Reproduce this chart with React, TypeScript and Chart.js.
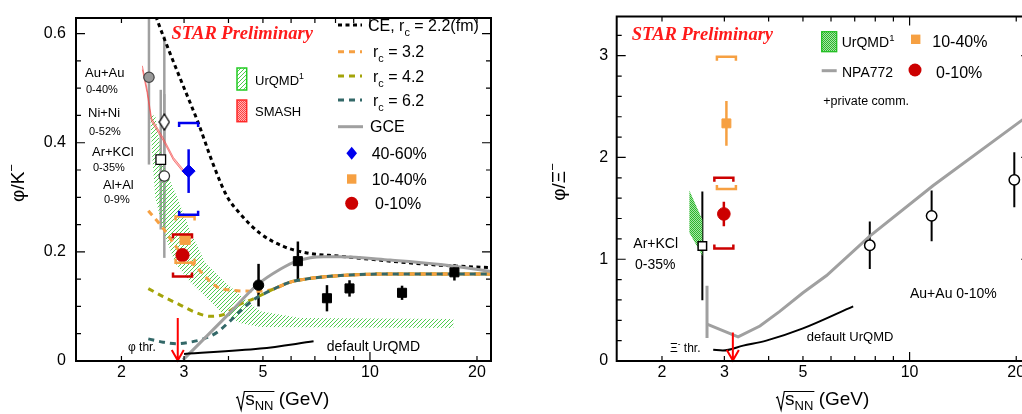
import React, { useEffect, useRef } from "react";
import { Chart, registerables } from "chart.js";

Chart.register(...registerables);

const SANS = "'Liberation Sans', Arial, Helvetica, sans-serif";
const SERIF = "'Liberation Serif', 'Times New Roman', serif";

// ---------- shared x axis (sqrt(s_NN), log) ----------
const xRange = [1.49, 21.9];
const xLabelValues = [2, 3, 5, 10, 20];
const xTickValues = [2, 3, 4, 5, 6, 7, 8, 9, 10, 20];

// ---------- left panel: phi/K- ----------
const leftYRange = [0, 0.6286];
const leftYLabels = [0, 0.2, 0.4, 0.6];
const leftYTicks = [0.05, 0.1, 0.15, 0.2, 0.25, 0.3, 0.35, 0.4, 0.45, 0.5, 0.55, 0.6];

// canonical ensemble, r_c = 2.2 fm
const ceX = [2.46, 2.514, 2.728, 2.98, 3.29, 3.63, 3.96, 4.31, 4.91, 5.71, 6.65, 8.25, 11.41, 15.78, 21.96];
const ceY = [0.645, 0.627, 0.567, 0.505, 0.436, 0.359, 0.302, 0.27, 0.234, 0.21, 0.198, 0.192, 0.183, 0.1755, 0.171];
// r_c = 3.2, 4.2, 6.2 (low-energy parts)
const rc32X = [2.38, 2.62, 2.89, 3.26, 3.71, 4.04, 4.7, 5.35];
const rc32Y = [0.2755, 0.243, 0.204, 0.171, 0.136, 0.13, 0.128, 0.1316];
const rc42X = [2.38, 2.62, 2.92, 3.26, 3.55, 3.87, 4.31, 4.7, 5.35];
const rc42Y = [0.1327, 0.118, 0.103, 0.088, 0.082, 0.085, 0.104, 0.114, 0.1316];
const rc62X = [2.38, 2.62, 2.86, 3.12, 3.4, 3.71, 4.04, 4.31, 4.7, 5.35];
const rc62Y = [0.0405, 0.0345, 0.0316, 0.0345, 0.0405, 0.0523, 0.0732, 0.091, 0.112, 0.1316];
// common high-energy part of the r_c curves
const rcTailX = [5.35, 5.97, 6.65, 8.25, 11.41, 15.78, 21.96];
const rcTailY = [0.1316, 0.1446, 0.1505, 0.1566, 0.1595, 0.1595, 0.1595];
// grand canonical
const gceX = [2.98, 3.99, 4.81, 5.59, 6.23, 7.4, 8.25, 11.41, 15.78, 21.96];
const gceY = [0.002, 0.085, 0.139, 0.168, 0.183, 0.191, 0.191, 0.185, 0.177, 0.164];
// default UrQMD
const defUrqmdLX = [3.0, 4.91, 6.94];
const defUrqmdLY = [0.013, 0.0227, 0.036];
// UrQMD band
const urqmdHiX = [2.49, 2.62, 2.87, 3.12, 3.44, 3.91, 4.46, 4.91, 6.37, 17.16];
const urqmdHiY = [0.45, 0.359, 0.3, 0.239, 0.18, 0.145, 0.1125, 0.091, 0.0786, 0.0768];
const urqmdLoX = [2.41, 2.44, 2.49, 2.62, 2.83, 3.12, 3.44, 3.79, 4.31, 4.91, 17.16];
const urqmdLoY = [0.45, 0.377, 0.3, 0.239, 0.18, 0.145, 0.118, 0.091, 0.0696, 0.0625, 0.0607];
// SMASH band
const smashX = [2.29, 2.36, 2.43, 2.62, 2.8, 3.02];
const smashHi = [0.541, 0.499, 0.445, 0.409, 0.373, 0.347];
const smashLo = [0.534, 0.492, 0.439, 0.404, 0.368, 0.342];
// world data (black squares) and black circle
const worldX = [6.27, 7.57, 8.76, 12.31, 17.28];
const worldY = [0.183, 0.115, 0.133, 0.125, 0.1625];
const worldErr = [0.036, 0.024, 0.015, 0.013, 0.015];
const e917X = [4.86];
const e917Y = [0.139];
const e917Err = [0.039];
// HADES
const hadesAuX = [2.39]; const hadesAuY = [0.52]; const hadesAuErr = [0.16];
const hadesNiX = [2.64]; const hadesNiY = [0.438]; const hadesNiErr = [0.157];
const hadesArX = [2.58]; const hadesArY = [0.369]; const hadesArErr = [0.128];
const hadesAlX = [2.64]; const hadesAlY = [0.339]; const hadesAlErr = [0.15];
// STAR 3 GeV: 0-10%, 10-40%, 40-60%
const starLX = [2.97, 3.02, 3.09];
const starLY = [0.194, 0.223, 0.348];
const starLStat = [0.008, 0.008, 0.04];
const starLSysHi = [0.232, 0.265, 0.436];
const starLSysLo = [0.155, 0.18, 0.268];
const phiThrX = 2.88;
const phiThrTop = 0.079;

// ---------- right panel: phi/Xi- ----------
const rightYRange = [0, 3.385];
const rightYLabels = [0, 1, 2, 3];
const rightYTicks = [0.2, 0.4, 0.6, 0.8, 1, 1.2, 1.4, 1.6, 1.8, 2, 2.2, 2.4, 2.6, 2.8, 3, 3.2];

const npaStubX = [2.68, 2.68];
const npaStubY = [0.74, 0.225];
const npaX = [2.69, 3.28, 3.78, 4.3, 5.0, 5.83, 7.72, 11.66, 20.77, 21.96];
const npaY = [0.36, 0.238, 0.344, 0.488, 0.67, 0.84, 1.227, 1.724, 2.367, 2.43];
const defUrqmdRX = [2.79, 2.97, 3.39, 3.94, 5.0, 6.93];
const defUrqmdRY = [0.11, 0.103, 0.151, 0.2, 0.32, 0.537];
const na49X = [7.72, 11.54, 19.75];
const na49Y = [1.137, 1.426, 1.78];
const na49Err = [0.233, 0.25, 0.27];
const hadesRX = [2.6]; const hadesRY = [1.131]; const hadesRErr = [0.535];
const urqmdRHiX = [2.39, 2.6]; const urqmdRHiY = [1.676, 1.387];
const urqmdRLoX = [2.39, 2.6]; const urqmdRLoY = [1.259, 1.035];
// STAR 3 GeV: 0-10%, 10-40%
const starRX = [2.99, 3.04];
const starRY = [1.445, 2.335];
const starRStat = [0.12, 0.22];
const starRSysHi = [1.8, 2.99];
const starRSysLo = [1.105, 1.69];
const xiThrX = 3.17;
const xiThrTop = 0.28;

// ---------- colours ----------
const ORANGE = "#f6a042";
const OLIVE = "#a4a40a";
const TEAL = "#336868";
const GRAY = "#a0a0a0";
const RED = "#cc0000";
const BLUE = "#0000ee";

// ---------- helpers ----------
type Seg = { t: string; s?: "sub" | "sup" };

const pts = (xs: number[], ys: number[]) => xs.map((x, i) => ({ x, y: ys[i] }));

function dots(g: CanvasRenderingContext2D, c1: string, c2: string | null, n: number) {
  const cv = document.createElement("canvas");
  cv.width = n; cv.height = n;
  const h = cv.getContext("2d")!;
  if (c2) { h.fillStyle = c2; h.fillRect(0, 0, n, n); }
  h.fillStyle = c1;
  if (n === 2) { h.fillRect(0, 0, 1, 1); h.fillRect(1, 1, 1, 1); }
  else { h.fillRect(0, 0, 1, 1); h.fillRect(2, 2, 1, 1); h.fillRect(3, 1, 1, 1); h.fillRect(1, 3, 1, 1); }
  return g.createPattern(cv, "repeat")!;
}

function makeDiamond(w: number, h: number) {
  const cv = document.createElement("canvas");
  cv.width = w; cv.height = h;
  const c = cv.getContext("2d")!;
  c.beginPath();
  c.moveTo(w / 2, 1); c.lineTo(w - 1, h / 2); c.lineTo(w / 2, h - 1); c.lineTo(1, h / 2); c.closePath();
  c.fillStyle = "#fff"; c.fill();
  c.strokeStyle = "#000"; c.lineWidth = 1.3; c.stroke();
  return cv;
}

function curve(data: any[], color: string, width: number, dash: number[], order: number, mono = true) {
  return {
    data, showLine: true, borderColor: color, borderWidth: width, borderDash: dash,
    pointRadius: 0, pointHoverRadius: 0, fill: false, order, clip: 0,
    cubicInterpolationMode: mono ? "monotone" : "default", tension: 0,
  };
}
function poly(hx: number[], hy: number[], lx: number[], ly: number[], bg: any, border: string, bw: number, order: number) {
  return {
    data: [...pts(hx, hy), ...pts(lx, ly).reverse()], showLine: true, fill: "shape",
    backgroundColor: bg, borderColor: border, borderWidth: bw, pointRadius: 0, pointHoverRadius: 0,
    tension: 0, order, clip: 0,
  };
}
function marks(data: any[], style: any, r: number, bg: string, border: string, bw: number, order: number) {
  return {
    data, showLine: false, pointStyle: style, pointRadius: r, pointHoverRadius: r,
    backgroundColor: bg, borderColor: border, borderWidth: bw, order, clip: false,
  };
}

function segsWidth(ctx: CanvasRenderingContext2D, segs: Seg[], size: number) {
  let w = 0;
  for (const g of segs) {
    ctx.font = `${g.s ? size * 0.68 : size}px ${SANS}`;
    w += ctx.measureText(g.t).width;
  }
  return w;
}
function drawSegs(ctx: CanvasRenderingContext2D, segs: Seg[], x: number, baseline: number, size: number, align = "left", color = "#000") {
  let cx = align === "center" ? x - segsWidth(ctx, segs, size) / 2 : x;
  ctx.fillStyle = color; ctx.textAlign = "left"; ctx.textBaseline = "alphabetic";
  for (const g of segs) {
    const fs = g.s ? size * 0.68 : size;
    ctx.font = `${fs}px ${SANS}`;
    const dy = g.s === "sub" ? size * 0.3 : g.s === "sup" ? -size * 0.42 : 0;
    ctx.fillText(g.t, cx, baseline + dy);
    cx += ctx.measureText(g.t).width;
  }
}
// text by its vertical centre
function label(ctx: CanvasRenderingContext2D, segs: Seg[], x: number, cy: number, size: number, align = "left") {
  drawSegs(ctx, segs, x, cy + size * 0.36, size, align);
}

function errBars(chart: any, xs: number[], ys: number[], errs: number[], color: string, lw: number) {
  const { ctx, scales, chartArea: a } = chart;
  ctx.save();
  ctx.beginPath(); ctx.rect(a.left, a.top, a.right - a.left, a.bottom - a.top); ctx.clip();
  ctx.strokeStyle = color; ctx.lineWidth = lw;
  xs.forEach((x: number, i: number) => {
    const X = scales.x.getPixelForValue(x);
    ctx.beginPath();
    ctx.moveTo(X, scales.y.getPixelForValue(ys[i] + errs[i]));
    ctx.lineTo(X, scales.y.getPixelForValue(ys[i] - errs[i]));
    ctx.stroke();
  });
  ctx.restore();
}
function brackets(chart: any, xs: number[], hi: number[], lo: number[], colors: string[], halfW: number) {
  const { ctx, scales } = chart;
  ctx.save();
  ctx.lineWidth = 2.5;
  xs.forEach((x: number, i: number) => {
    const X = scales.x.getPixelForValue(x);
    const H = scales.y.getPixelForValue(hi[i]);
    const L = scales.y.getPixelForValue(lo[i]);
    ctx.strokeStyle = colors[i];
    ctx.beginPath();
    ctx.moveTo(X - halfW, H + 4); ctx.lineTo(X - halfW, H); ctx.lineTo(X + halfW, H); ctx.lineTo(X + halfW, H + 4);
    ctx.moveTo(X - halfW, L - 4); ctx.lineTo(X - halfW, L); ctx.lineTo(X + halfW, L); ctx.lineTo(X + halfW, L - 4);
    ctx.stroke();
  });
  ctx.restore();
}
function arrow(chart: any, xv: number, top: number) {
  const { ctx, scales } = chart;
  const X = scales.x.getPixelForValue(xv);
  const T = scales.y.getPixelForValue(top);
  const B = scales.y.getPixelForValue(0);
  ctx.save();
  ctx.strokeStyle = "#ff0000"; ctx.lineWidth = 2;
  ctx.beginPath();
  ctx.moveTo(X, T); ctx.lineTo(X, B);
  ctx.moveTo(X - 6, B - 11); ctx.lineTo(X, B - 0.5); ctx.lineTo(X + 6, B - 11);
  ctx.stroke();
  ctx.restore();
}
function frame(chart: any, yLabels: number[], yTicks: number[]) {
  const { ctx, scales, chartArea: a } = chart;
  ctx.save();
  ctx.strokeStyle = "#000"; ctx.lineWidth = 1.2;
  ctx.beginPath();
  for (const v of xTickValues) {
    const X = scales.x.getPixelForValue(v);
    const len = v === 10 ? 9 : 5;
    ctx.moveTo(X, a.bottom); ctx.lineTo(X, a.bottom - len);
    ctx.moveTo(X, a.top); ctx.lineTo(X, a.top + len);
  }
  for (const v of yTicks) {
    const Y = scales.y.getPixelForValue(v);
    const len = yLabels.includes(v) ? 9 : 5;
    ctx.moveTo(a.left, Y); ctx.lineTo(a.left + len, Y);
    ctx.moveTo(a.right, Y); ctx.lineTo(a.right - len, Y);
  }
  ctx.stroke();
  ctx.lineWidth = 2;
  ctx.strokeRect(a.left, a.top, a.right - a.left, a.bottom - a.top);
  ctx.restore();
}
function sqrtTitle(ctx: CanvasRenderingContext2D, cx: number, by: number) {
  const size = 19;
  ctx.font = `${size}px ${SANS}`;
  const wS = ctx.measureText("s").width;
  const wG = ctx.measureText(" (GeV)").width;
  ctx.font = `13px ${SANS}`;
  const wNN = ctx.measureText("NN").width;
  const wRad = 7.5;
  const x0 = cx - (wRad + wS + wNN + wG) / 2;
  ctx.save();
  ctx.strokeStyle = "#000"; ctx.lineWidth = 1.2;
  ctx.beginPath();
  ctx.moveTo(x0 - 1.5, by - 7); ctx.lineTo(x0, by - 8);
  ctx.lineTo(x0 + 3.5, by + 5); ctx.lineTo(x0 + 6.7, by - 13.5);
  ctx.lineTo(x0 + wRad + wS + wNN + 1, by - 13.5);
  ctx.stroke();
  ctx.fillStyle = "#000"; ctx.textAlign = "left"; ctx.textBaseline = "alphabetic";
  ctx.font = `${size}px ${SANS}`;
  ctx.fillText("s", x0 + wRad, by);
  ctx.font = `13px ${SANS}`;
  ctx.fillText("NN", x0 + wRad + wS, by + 5);
  ctx.font = `${size}px ${SANS}`;
  ctx.fillText(" (GeV)", x0 + wRad + wS + wNN, by);
  ctx.restore();
}
function yTitle(ctx: CanvasRenderingContext2D, segs: Seg[], cx: number, cy: number) {
  ctx.save();
  ctx.translate(cx, cy);
  ctx.rotate(-Math.PI / 2);
  drawSegs(ctx, segs, 0, 19 * 0.36, 19, "center");
  ctx.restore();
}
function star(ctx: CanvasRenderingContext2D, x: number, by: number) {
  ctx.save();
  ctx.font = `italic bold 18.5px ${SERIF}`;
  ctx.fillStyle = "#ff1a1a"; ctx.textAlign = "left"; ctx.textBaseline = "alphabetic";
  ctx.fillText("STAR Preliminary", x, by);
  ctx.restore();
}
function lineSample(ctx: CanvasRenderingContext2D, x0: number, x1: number, y: number, color: string, dash: number[], lw = 3) {
  ctx.save();
  ctx.strokeStyle = color; ctx.lineWidth = lw; ctx.setLineDash(dash);
  ctx.beginPath(); ctx.moveTo(x0, y); ctx.lineTo(x1, y); ctx.stroke();
  ctx.restore();
}

function scales(yRange: number[], yLabels: number[], yWidth: number, yPad: number) {
  return {
    x: {
      type: "logarithmic", min: xRange[0], max: xRange[1], bounds: "data",
      afterBuildTicks: (s: any) => { s.ticks = xLabelValues.map((v) => ({ value: v })); },
      afterFit: (s: any) => { s.height = 53; },
      ticks: { callback: (v: any) => String(v), autoSkip: false, maxRotation: 0, minRotation: 0, padding: 4, color: "#000", font: { size: 16, family: SANS, lineHeight: 1 } },
      grid: { display: false, drawTicks: false, tickLength: 0 },
      border: { display: false },
    },
    y: {
      type: "linear", min: yRange[0], max: yRange[1], bounds: "data",
      afterBuildTicks: (s: any) => { s.ticks = yLabels.map((v) => ({ value: v })); },
      afterFit: (s: any) => { s.width = yWidth; },
      ticks: { callback: (v: any) => String(v), padding: yPad, color: "#000", font: { size: 16, family: SANS, lineHeight: 1 } },
      grid: { display: false, drawTicks: false, tickLength: 0 },
      border: { display: false },
    },
  };
}

function buildLeft(g: CanvasRenderingContext2D): any {
  const greenPat = dots(g, "#4fcc4f", null, 4);
  const greenBox = dots(g, "#4fcc4f", "#ffffff", 4);
  const redBox = dots(g, "#ff4040", "#ffb4b4", 2);
  const diamondImg = makeDiamond(12, 18);

  const deco = {
    id: "leftDeco",
    beforeDatasetsDraw(chart: any) {
      errBars(chart, hadesAuX, hadesAuY, hadesAuErr, GRAY, 2.5);
      errBars(chart, hadesArX, hadesArY, hadesArErr, GRAY, 2.5);
      errBars(chart, hadesNiX, hadesNiY, hadesNiErr, GRAY, 2.5);
      errBars(chart, hadesAlX, hadesAlY, hadesAlErr, GRAY, 2.5);
      errBars(chart, worldX, worldY, worldErr, "#000", 2.5);
      errBars(chart, e917X, e917Y, e917Err, "#000", 2.5);
      errBars(chart, starLX, starLY, starLStat, BLUE, 2.5);
    },
    afterDatasetsDraw(chart: any) {
      brackets(chart, starLX, starLSysHi, starLSysLo, [RED, ORANGE, BLUE], 9.5);
    },
    afterDraw(chart: any) {
      const ctx = chart.ctx as CanvasRenderingContext2D;
      arrow(chart, phiThrX, phiThrTop);
      frame(chart, leftYLabels, leftYTicks);
      star(ctx, 171.5, 39);
      // legend (right column)
      lineSample(ctx, 338, 362, 25, "#000", [4, 3.5]);
      lineSample(ctx, 338, 362, 51.7, ORANGE, [6, 5]);
      lineSample(ctx, 338, 362, 76, OLIVE, [6, 5]);
      lineSample(ctx, 338, 362, 100, TEAL, [6, 5]);
      lineSample(ctx, 338, 363, 126.7, GRAY, []);
      label(ctx, [{ t: "CE, r" }, { t: "c", s: "sub" }, { t: " = 2.2(fm)" }], 368, 25, 16);
      label(ctx, [{ t: "r" }, { t: "c", s: "sub" }, { t: " = 3.2" }], 373, 51.7, 16);
      label(ctx, [{ t: "r" }, { t: "c", s: "sub" }, { t: " = 4.2" }], 373, 76, 16);
      label(ctx, [{ t: "r" }, { t: "c", s: "sub" }, { t: " = 6.2" }], 373, 100, 16);
      label(ctx, [{ t: "GCE" }], 370, 126.7, 16);
      ctx.save();
      ctx.fillStyle = BLUE;
      ctx.beginPath(); ctx.moveTo(351.7, 146.8); ctx.lineTo(357, 153.3); ctx.lineTo(351.7, 159.8); ctx.lineTo(346.4, 153.3); ctx.closePath(); ctx.fill();
      ctx.fillStyle = ORANGE; ctx.fillRect(347, 174.3, 9.4, 9.4);
      ctx.fillStyle = RED; ctx.beginPath(); ctx.arc(351.7, 203.3, 6.5, 0, Math.PI * 2); ctx.fill();
      ctx.restore();
      label(ctx, [{ t: "40-60%" }], 371.7, 153.3, 16);
      label(ctx, [{ t: "10-40%" }], 371.7, 179, 16);
      label(ctx, [{ t: "0-10%" }], 375, 203.3, 16);
      // model legend
      ctx.save();
      ctx.fillStyle = greenBox; ctx.fillRect(237, 68, 9.7, 22);
      ctx.strokeStyle = "#22cc22"; ctx.lineWidth = 1.5; ctx.strokeRect(237, 68, 9.7, 22);
      ctx.fillStyle = redBox; ctx.fillRect(237, 100, 9.7, 21.7);
      ctx.strokeStyle = "#ff2a2a"; ctx.strokeRect(237, 100, 9.7, 21.7);
      ctx.restore();
      label(ctx, [{ t: "UrQMD" }, { t: "1", s: "sup" }], 255, 80, 13);
      label(ctx, [{ t: "SMASH" }], 255, 111, 13);
      // system labels
      label(ctx, [{ t: "Au+Au" }], 85, 72.7, 13);
      label(ctx, [{ t: "0-40%" }], 86, 89, 11);
      label(ctx, [{ t: "Ni+Ni" }], 88, 112.7, 13);
      label(ctx, [{ t: "0-52%" }], 89, 131, 11);
      label(ctx, [{ t: "Ar+KCl" }], 92, 151.7, 13);
      label(ctx, [{ t: "0-35%" }], 93, 166.7, 11);
      label(ctx, [{ t: "Al+Al" }], 103, 184, 13);
      label(ctx, [{ t: "0-9%" }], 104, 199.3, 11);
      label(ctx, [{ t: "\u03c6 thr." }], 128, 346.7, 12);
      label(ctx, [{ t: "default UrQMD" }], 326.7, 345.7, 14);
      // axis titles
      sqrtTitle(ctx, (chart.chartArea.left + chart.chartArea.right) / 2, 405);
      yTitle(ctx, [{ t: "\u03c6/K" }, { t: "\u2212", s: "sup" }], 17, 183);
    },
  };

  return {
    type: "scatter",
    data: {
      datasets: [
        poly(urqmdHiX, urqmdHiY, urqmdLoX, urqmdLoY, greenPat, "rgba(0,0,0,0)", 0, 100),
        poly(smashX, smashHi, smashX, smashLo, "rgba(255,130,130,0.5)", "rgba(240,70,70,0.8)", 0.8, 95),
        curve(pts(ceX, ceY), "#000", 3, [4, 3.5], 60),
        curve(pts([...rc32X, ...rcTailX.slice(1)], [...rc32Y, ...rcTailY.slice(1)]), ORANGE, 3, [6, 5], 59),
        curve(pts([...rc42X, ...rcTailX.slice(1)], [...rc42Y, ...rcTailY.slice(1)]), OLIVE, 3, [6, 5], 58),
        curve(pts(rcTailX, rcTailY), ORANGE, 3, [], 57),
        curve(pts([...rc62X, ...rcTailX.slice(1)], [...rc62Y, ...rcTailY.slice(1)]), TEAL, 3, [6, 5], 56),
        curve(pts(gceX, gceY), GRAY, 3, [], 55),
        curve(pts(defUrqmdLX, defUrqmdLY), "#000", 2, [], 54),
        marks(pts(worldX, worldY), "rect", 6.4, "#000", "#000", 1, 10),
        marks(pts(e917X, e917Y), "circle", 5.2, "#000", "#000", 1, 10),
        marks(pts(hadesAuX, hadesAuY), "circle", 5.2, "#999999", "#444444", 1.2, 20),
        marks(pts(hadesNiX, hadesNiY), diamondImg, 7, "#fff", "#000", 1.3, 20),
        marks(pts(hadesArX, hadesArY), "rect", 6.8, "#fff", "#000", 1.3, 20),
        marks(pts(hadesAlX, hadesAlY), "circle", 5.2, "#fff", "#333", 1.3, 20),
        marks(pts([starLX[2]], [starLY[2]]), "rectRot", 6.5, BLUE, BLUE, 1, 5),
        marks(pts([starLX[1]], [starLY[1]]), "rect", 7.2, ORANGE, ORANGE, 1, 5),
        marks(pts([starLX[0]], [starLY[0]]), "circle", 6.6, RED, RED, 1, 4),
      ],
    },
    options: {
      responsive: false,
      animation: false,
      events: [],
      layout: { padding: { top: 9, right: 29, left: 0, bottom: 0 } },
      plugins: { legend: { display: false }, tooltip: { enabled: false } },
      scales: scales(leftYRange, leftYLabels, 76, 10),
    },
    plugins: [deco],
  };
}

function buildRight(g: CanvasRenderingContext2D): any {
  const greenPat = dots(g, "#2db42d", "#a6e6a6", 2);
  const deco = {
    id: "rightDeco",
    beforeDatasetsDraw(chart: any) {
      errBars(chart, hadesRX, hadesRY, hadesRErr, "#000", 2);
      errBars(chart, na49X, na49Y, na49Err, "#000", 2);
      errBars(chart, [starRX[0]], [starRY[0]], [starRStat[0]], RED, 2.5);
      errBars(chart, [starRX[1]], [starRY[1]], [starRStat[1]], ORANGE, 2.5);
    },
    afterDatasetsDraw(chart: any) {
      brackets(chart, starRX, starRSysHi, starRSysLo, [RED, ORANGE], 9.5);
    },
    afterDraw(chart: any) {
      const ctx = chart.ctx as CanvasRenderingContext2D;
      arrow(chart, xiThrX, xiThrTop);
      frame(chart, rightYLabels, rightYTicks);
      star(ctx, 101.7, 40);
      ctx.save();
      ctx.fillStyle = greenPat; ctx.fillRect(291.7, 31.7, 15, 20);
      ctx.strokeStyle = "#22c022"; ctx.lineWidth = 1.3; ctx.strokeRect(291.7, 31.7, 15, 20);
      ctx.fillStyle = ORANGE; ctx.fillRect(381, 34.6, 9.4, 9.4);
      ctx.fillStyle = RED; ctx.beginPath(); ctx.arc(385, 70, 6.5, 0, Math.PI * 2); ctx.fill();
      ctx.restore();
      lineSample(ctx, 291.7, 306.7, 70.7, GRAY, []);
      label(ctx, [{ t: "UrQMD" }, { t: "1", s: "sup" }], 311.7, 41.7, 14);
      label(ctx, [{ t: "NPA772" }], 312, 72, 14);
      label(ctx, [{ t: "+private comm." }], 293.3, 100, 12.5);
      label(ctx, [{ t: "10-40%" }], 402.3, 41.7, 16);
      label(ctx, [{ t: "0-10%" }], 406, 72, 16);
      label(ctx, [{ t: "Ar+KCl" }], 103.3, 243.3, 14);
      label(ctx, [{ t: "0-35%" }], 105, 264.3, 14);
      label(ctx, [{ t: "Au+Au 0-10%" }], 380, 293.3, 14);
      label(ctx, [{ t: "default UrQMD" }], 276.7, 336, 13);
      label(ctx, [{ t: "\u039e" }, { t: "-", s: "sup" }, { t: " thr." }], 140, 348, 12);
      sqrtTitle(ctx, (chart.chartArea.left + chart.chartArea.right) / 2, 405);
      yTitle(ctx, [{ t: "\u03c6/\u039e" }, { t: "\u2212", s: "sup" }], 28, 182);
    },
  };
  return {
    type: "scatter",
    data: {
      datasets: [
        poly(urqmdRHiX, urqmdRHiY, urqmdRLoX, urqmdRLoY, greenPat, "rgba(0,0,0,0)", 0, 100),
        curve(pts(npaStubX, npaStubY), GRAY, 3, [], 55, false),
        curve(pts(npaX, npaY), GRAY, 3, [], 55, false),
        curve(pts(defUrqmdRX, defUrqmdRY), "#000", 2, [], 54),
        marks(pts(na49X, na49Y), "circle", 5.2, "#fff", "#000", 1.5, 10),
        marks(pts(hadesRX, hadesRY), "rect", 6, "#fff", "#000", 1.5, 10),
        marks(pts([starRX[1]], [starRY[1]]), "rect", 6.3, ORANGE, ORANGE, 1, 5),
        marks(pts([starRX[0]], [starRY[0]]), "circle", 6.3, RED, RED, 1, 5),
      ],
    },
    options: {
      responsive: false,
      animation: false,
      events: [],
      layout: { padding: { top: 9.3, right: 29.8, left: 0, bottom: 0 } },
      plugins: { legend: { display: false }, tooltip: { enabled: false } },
      scales: scales(rightYRange, rightYLabels, 86.7, 8.5),
    },
    plugins: [deco],
  };
}

export default function App() {
  const leftRef = useRef<HTMLCanvasElement | null>(null);
  const rightRef = useRef<HTMLCanvasElement | null>(null);
  useEffect(() => {
    const lc = leftRef.current!;
    const rc = rightRef.current!;
    const left = new Chart(lc, buildLeft(lc.getContext("2d")!));
    const right = new Chart(rc, buildRight(rc.getContext("2d")!));
    return () => { left.destroy(); right.destroy(); };
  }, []);
  return (
    <div style={{ position: "fixed", left: 0, top: 0, width: 1022, height: 414, overflow: "hidden", background: "#fff" }}>
      <canvas ref={leftRef} width={520} height={414} style={{ position: "absolute", left: 0, top: 0, display: "block" }} />
      <canvas ref={rightRef} width={530} height={414} style={{ position: "absolute", left: 530, top: 0, display: "block" }} />
    </div>
  );
}
